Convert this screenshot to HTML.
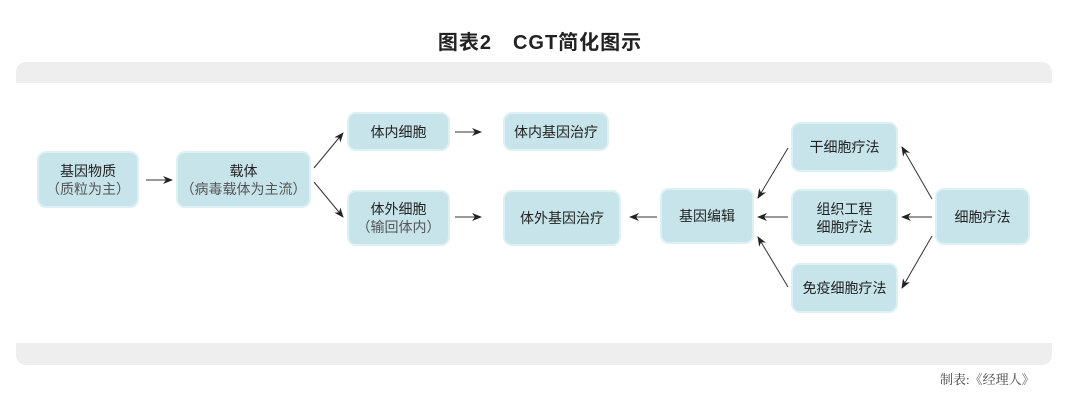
<!DOCTYPE html>
<html><head><meta charset="utf-8"><style>
body{margin:0;width:1080px;height:403px;background:#fff;position:relative;overflow:hidden;font-family:"Liberation Sans","Noto Sans CJK SC",sans-serif;}
.t{position:absolute;top:26px;left:0;width:1080px;text-align:center;font-size:20px;font-weight:bold;color:#222;letter-spacing:1px}
.panel{position:absolute;left:16px;top:62px;width:1036px;height:303px;background:#eeeeee;border-radius:10px}
.inner{position:absolute;left:16px;top:83px;width:1036px;height:260px;background:#fff}
.b{position:absolute;background:#c7e4ea;border:2px solid #ddf0f3;border-radius:9px;box-sizing:border-box;display:flex;flex-direction:column;align-items:center;justify-content:center;text-align:center;font-size:14px;line-height:18px;color:#222;white-space:nowrap}
.s{color:#555;display:block}
svg{position:absolute;left:0;top:0}
.src{position:absolute;left:940px;top:369px;font-size:13px;color:#444;font-family:"Liberation Serif","Noto Serif CJK SC",serif}
</style></head><body>
<div class="t">图表2　CGT简化图示</div>
<div class="panel"></div><div class="inner"></div>
<div class="b" style="left:37px;top:151px;width:102px;height:57px"><div>基因物质</div><div class="s">（质粒为主）</div></div>
<div class="b" style="left:176px;top:151px;width:135px;height:57px"><div>载体</div><div class="s">（病毒载体为主流）</div></div>
<div class="b" style="left:347px;top:112px;width:103px;height:39px"><div>体内细胞</div></div>
<div class="b" style="left:347px;top:190px;width:103px;height:56px"><div>体外细胞</div><div class="s">（输回体内）</div></div>
<div class="b" style="left:503px;top:112px;width:106px;height:39px"><div>体内基因治疗</div></div>
<div class="b" style="left:503px;top:190px;width:118px;height:56px"><div>体外基因治疗</div></div>
<div class="b" style="left:660px;top:188px;width:94px;height:56px"><div>基因编辑</div></div>
<div class="b" style="left:791px;top:122px;width:107px;height:50px"><div>干细胞疗法</div></div>
<div class="b" style="left:791px;top:189px;width:107px;height:57px"><div>组织工程</div><div>细胞疗法</div></div>
<div class="b" style="left:791px;top:263px;width:107px;height:50px"><div>免疫细胞疗法</div></div>
<div class="b" style="left:935px;top:188px;width:95px;height:57px"><div>细胞疗法</div></div>
<svg width="1080" height="403">
<defs><marker id="a" markerWidth="10" markerHeight="8" refX="9" refY="4" orient="auto" markerUnits="userSpaceOnUse"><path d="M0,0 L10,4 L0,8 L3,4z" fill="#222"/></marker></defs>
<g stroke="#333" stroke-width="1" fill="none" marker-end="url(#a)">
<line x1="146" y1="180" x2="172" y2="180"/>
<line x1="314" y1="168" x2="343" y2="133"/>
<line x1="314" y1="182" x2="343" y2="217"/>
<line x1="455" y1="132" x2="481" y2="132"/>
<line x1="455" y1="217" x2="481" y2="217"/>
<line x1="657" y1="217" x2="630" y2="217"/>
<line x1="788" y1="148" x2="758" y2="198"/>
<line x1="788" y1="217" x2="758" y2="217"/>
<line x1="788" y1="287" x2="758" y2="237"/>
<line x1="932" y1="199" x2="902" y2="147"/>
<line x1="932" y1="217" x2="902" y2="217"/>
<line x1="932" y1="236" x2="902" y2="288"/>
</g></svg>
<div class="src">制表:《经理人》</div>
</body></html>
